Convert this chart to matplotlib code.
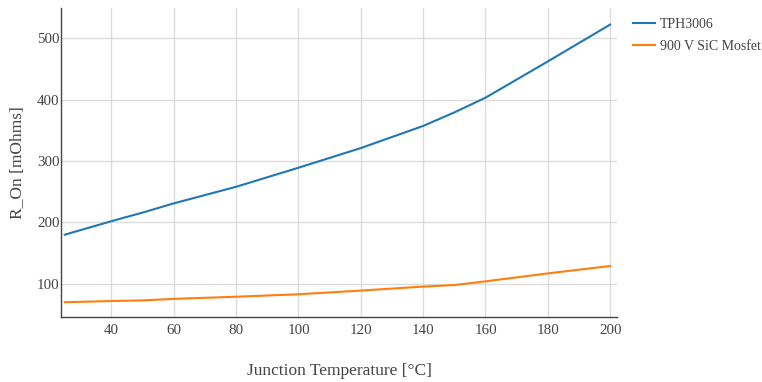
import matplotlib.pyplot as plt

# Junction temperature [°C] and on-resistance [mOhms]
temp_tph = [25, 40, 50, 60, 80, 100, 120, 140, 150, 160, 180, 200]
ron_tph = [180, 202, 216, 231, 258, 289, 321, 357, 379, 403, 462, 522]

temp_sic = [25, 40, 50, 60, 80, 100, 120, 140, 150, 160, 180, 200]
ron_sic = [70, 72, 73, 75.5, 79, 83, 89, 95.5, 98, 104, 117, 129]

x_ticks = [40, 60, 80, 100, 120, 140, 160, 180, 200]
y_ticks = [100, 200, 300, 400, 500]

plt.rcParams['font.family'] = ['Liberation Serif', 'DejaVu Serif']

fig = plt.figure(figsize=(7.62, 3.82), dpi=100)
ax = fig.add_axes([61 / 762, 1 - 317 / 382, (617 - 61) / 762, (317 - 8) / 382])

ax.plot(temp_tph, ron_tph, color='#1f77b4', lw=1.5, label='TPH3006')
ax.plot(temp_sic, ron_sic, color='#ff7f0e', lw=1.5, label='900 V SiC Mosfet')

ax.set_xlim(23.8, 202.2)
ax.set_ylim(46, 549)
ax.set_xticks(x_ticks)
ax.set_yticks(y_ticks)
ax.grid(True, color='#dcdcdc', lw=1)
ax.set_axisbelow(True)

for side in ['top', 'right']:
    ax.spines[side].set_visible(False)
for side in ['left', 'bottom']:
    ax.spines[side].set_color('#444444')
    ax.spines[side].set_linewidth(1)

ax.tick_params(length=0, labelsize=10.8, labelcolor='#444444')
ax.tick_params(axis='x', pad=5)
ax.tick_params(axis='y', pad=1)
ax.set_xlabel('Junction Temperature [°C]', fontsize=12.5, color='#444444', labelpad=19)
ax.set_ylabel('R_On [mOhms]', fontsize=12.5, color='#444444', labelpad=8)

leg = ax.legend(loc='upper left', bbox_to_anchor=(1.013, 0.994), frameon=False,
                fontsize=10, handlelength=1.6, handletextpad=0.35,
                labelspacing=0.6, borderaxespad=0.2)
for t in leg.get_texts():
    t.set_color('#444444')

fig.savefig('out.png', dpi=100)
